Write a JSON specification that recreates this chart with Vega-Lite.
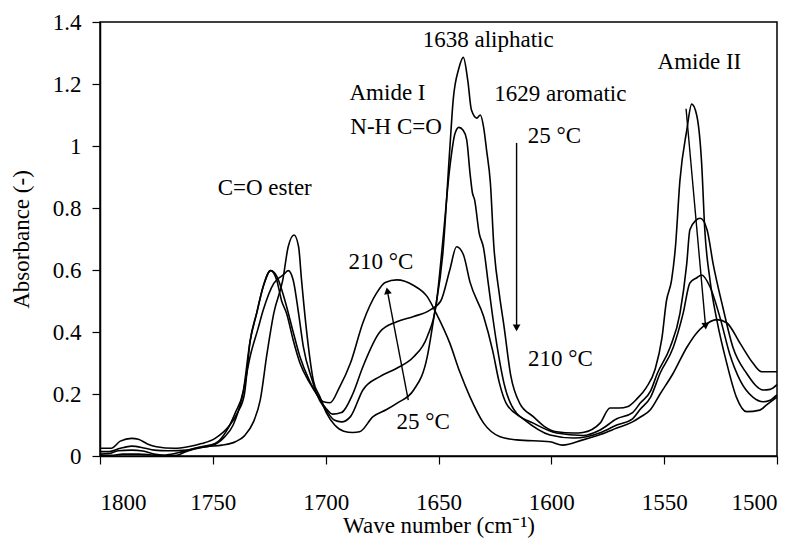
{
  "$schema": "https://vega.github.io/schema/vega-lite/v6.json",
  "width": 677,
  "height": 434,
  "autosize": "none",
  "padding": {"left": 100, "top": 22, "right": 26, "bottom": 90},
  "background": "white",
  "config": {
    "font": "Liberation Serif",
    "view": {"stroke": "black", "strokeWidth": 1.5},
    "axis": {
      "grid": false,
      "domainColor": "black",
      "domainWidth": 1.5,
      "tickColor": "black",
      "tickWidth": 1.2,
      "tickSize": 8,
      "labelColor": "black",
      "labelFont": "Liberation Serif",
      "labelFontSize": 23,
      "titleColor": "black",
      "titleFont": "Liberation Serif",
      "titleFontSize": 23,
      "titleFontWeight": "normal"
    }
  },
  "datasets": {
    "spectra": [
      {"s":"T1","w":1800,"a":0.002},{"s":"T1","w":1795,"a":0.002},{"s":"T1","w":1790,"a":0.006},{"s":"T1","w":1783,"a":0.006},{"s":"T1","w":1778,"a":0.004},{"s":"T1","w":1772,"a":0.0},{"s":"T1","w":1766,"a":0.002},{"s":"T1","w":1762,"a":0.014},{"s":"T1","w":1757,"a":0.024},{"s":"T1","w":1753,"a":0.03},{"s":"T1","w":1746,"a":0.035},{"s":"T1","w":1740,"a":0.046},{"s":"T1","w":1736,"a":0.065},{"s":"T1","w":1732,"a":0.11},{"s":"T1","w":1729,"a":0.18},{"s":"T1","w":1726,"a":0.33},{"s":"T1","w":1723,"a":0.46},{"s":"T1","w":1719,"a":0.568},{"s":"T1","w":1716.6,"a":0.675},{"s":"T1","w":1714,"a":0.713},{"s":"T1","w":1712,"a":0.675},{"s":"T1","w":1710.7,"a":0.568},{"s":"T1","w":1708.5,"a":0.406},{"s":"T1","w":1705.5,"a":0.245},{"s":"T1","w":1702.5,"a":0.19},{"s":"T1","w":1699.6,"a":0.138},{"s":"T1","w":1696,"a":0.1},{"s":"T1","w":1692,"a":0.08},{"s":"T1","w":1688,"a":0.076},{"s":"T1","w":1685,"a":0.078},{"s":"T1","w":1679,"a":0.127},{"s":"T1","w":1673,"a":0.15},{"s":"T1","w":1668.5,"a":0.17},{"s":"T1","w":1661,"a":0.213},{"s":"T1","w":1655,"a":0.32},{"s":"T1","w":1652,"a":0.45},{"s":"T1","w":1648,"a":0.66},{"s":"T1","w":1645,"a":0.99},{"s":"T1","w":1643.5,"a":1.148},{"s":"T1","w":1641,"a":1.25},{"s":"T1","w":1639,"a":1.286},{"s":"T1","w":1637,"a":1.21},{"s":"T1","w":1635.4,"a":1.116},{"s":"T1","w":1633,"a":1.09},{"s":"T1","w":1631.5,"a":1.1},{"s":"T1","w":1630,"a":1.06},{"s":"T1","w":1628.7,"a":0.987},{"s":"T1","w":1627,"a":0.88},{"s":"T1","w":1625.5,"a":0.68},{"s":"T1","w":1623,"a":0.52},{"s":"T1","w":1621,"a":0.42},{"s":"T1","w":1618,"a":0.26},{"s":"T1","w":1614,"a":0.17},{"s":"T1","w":1608,"a":0.127},{"s":"T1","w":1603,"a":0.095},{"s":"T1","w":1597.7,"a":0.078},{"s":"T1","w":1590,"a":0.074},{"s":"T1","w":1586,"a":0.076},{"s":"T1","w":1578.4,"a":0.106},{"s":"T1","w":1574,"a":0.155},{"s":"T1","w":1570,"a":0.155},{"s":"T1","w":1566,"a":0.16},{"s":"T1","w":1562,"a":0.185},{"s":"T1","w":1558,"a":0.22},{"s":"T1","w":1554,"a":0.28},{"s":"T1","w":1551,"a":0.38},{"s":"T1","w":1549,"a":0.5},{"s":"T1","w":1546.7,"a":0.568},{"s":"T1","w":1545,"a":0.675},{"s":"T1","w":1543,"a":0.89},{"s":"T1","w":1540,"a":1.05},{"s":"T1","w":1537.8,"a":1.135},{"s":"T1","w":1535.6,"a":1.1},{"s":"T1","w":1533.4,"a":0.945},{"s":"T1","w":1532,"a":0.73},{"s":"T1","w":1529.7,"a":0.568},{"s":"T1","w":1526.7,"a":0.44},{"s":"T1","w":1522.3,"a":0.3},{"s":"T1","w":1518,"a":0.19},{"s":"T1","w":1513.5,"a":0.143},{"s":"T1","w":1507.6,"a":0.148},{"s":"T1","w":1504.6,"a":0.165},{"s":"T1","w":1500,"a":0.19},

      {"s":"T2","w":1800,"a":0.006},{"s":"T2","w":1796,"a":0.008},{"s":"T2","w":1792,"a":0.017},{"s":"T2","w":1786,"a":0.019},{"s":"T2","w":1781,"a":0.016},{"s":"T2","w":1776,"a":0.006},{"s":"T2","w":1772,"a":0.003},{"s":"T2","w":1765,"a":0.011},{"s":"T2","w":1758,"a":0.025},{"s":"T2","w":1750,"a":0.035},{"s":"T2","w":1745,"a":0.06},{"s":"T2","w":1741,"a":0.1},{"s":"T2","w":1737,"a":0.19},{"s":"T2","w":1733.5,"a":0.32},{"s":"T2","w":1730,"a":0.41},{"s":"T2","w":1727.7,"a":0.47},{"s":"T2","w":1723,"a":0.557},{"s":"T2","w":1718.8,"a":0.584},{"s":"T2","w":1716.6,"a":0.598},{"s":"T2","w":1714.4,"a":0.568},{"s":"T2","w":1712,"a":0.46},{"s":"T2","w":1709.9,"a":0.353},{"s":"T2","w":1706,"a":0.245},{"s":"T2","w":1704,"a":0.2},{"s":"T2","w":1700,"a":0.15},{"s":"T2","w":1696,"a":0.115},{"s":"T2","w":1693,"a":0.11},{"s":"T2","w":1689,"a":0.127},{"s":"T2","w":1683.5,"a":0.213},{"s":"T2","w":1676,"a":0.256},{"s":"T2","w":1668.5,"a":0.283},{"s":"T2","w":1661,"a":0.32},{"s":"T2","w":1655,"a":0.385},{"s":"T2","w":1651,"a":0.49},{"s":"T2","w":1648,"a":0.7},{"s":"T2","w":1645,"a":0.93},{"s":"T2","w":1642.7,"a":1.04},{"s":"T2","w":1641,"a":1.06},{"s":"T2","w":1639,"a":1.05},{"s":"T2","w":1637.5,"a":1.02},{"s":"T2","w":1636,"a":0.91},{"s":"T2","w":1635,"a":0.85},{"s":"T2","w":1634,"a":0.826},{"s":"T2","w":1632,"a":0.72},{"s":"T2","w":1630,"a":0.67},{"s":"T2","w":1628,"a":0.56},{"s":"T2","w":1626,"a":0.45},{"s":"T2","w":1623.5,"a":0.33},{"s":"T2","w":1621,"a":0.235},{"s":"T2","w":1615.4,"a":0.138},{"s":"T2","w":1608,"a":0.106},{"s":"T2","w":1597.7,"a":0.074},{"s":"T2","w":1586,"a":0.066},{"s":"T2","w":1578.4,"a":0.084},{"s":"T2","w":1571,"a":0.12},{"s":"T2","w":1564,"a":0.14},{"s":"T2","w":1560.7,"a":0.17},{"s":"T2","w":1556,"a":0.21},{"s":"T2","w":1553,"a":0.267},{"s":"T2","w":1547.4,"a":0.35},{"s":"T2","w":1543,"a":0.46},{"s":"T2","w":1540,"a":0.62},{"s":"T2","w":1538.6,"a":0.73},{"s":"T2","w":1536,"a":0.76},{"s":"T2","w":1534,"a":0.767},{"s":"T2","w":1531,"a":0.73},{"s":"T2","w":1528.3,"a":0.62},{"s":"T2","w":1524,"a":0.48},{"s":"T2","w":1519.5,"a":0.35},{"s":"T2","w":1513.5,"a":0.267},{"s":"T2","w":1506,"a":0.213},{"s":"T2","w":1503,"a":0.215},{"s":"T2","w":1500,"a":0.23},

      {"s":"T3","w":1800,"a":0.014},{"s":"T3","w":1796,"a":0.014},{"s":"T3","w":1791,"a":0.025},{"s":"T3","w":1786,"a":0.032},{"s":"T3","w":1780,"a":0.025},{"s":"T3","w":1776,"a":0.019},{"s":"T3","w":1770,"a":0.017},{"s":"T3","w":1761,"a":0.019},{"s":"T3","w":1755,"a":0.03},{"s":"T3","w":1749,"a":0.04},{"s":"T3","w":1744,"a":0.08},{"s":"T3","w":1740,"a":0.14},{"s":"T3","w":1736.5,"a":0.21},{"s":"T3","w":1733.5,"a":0.37},{"s":"T3","w":1730.6,"a":0.46},{"s":"T3","w":1727.7,"a":0.546},{"s":"T3","w":1724.4,"a":0.598},{"s":"T3","w":1721.7,"a":0.58},{"s":"T3","w":1718,"a":0.5},{"s":"T3","w":1714.4,"a":0.4},{"s":"T3","w":1711.4,"a":0.32},{"s":"T3","w":1707,"a":0.24},{"s":"T3","w":1704,"a":0.2},{"s":"T3","w":1700,"a":0.155},{"s":"T3","w":1697,"a":0.135},{"s":"T3","w":1693,"a":0.14},{"s":"T3","w":1688,"a":0.2},{"s":"T3","w":1683.5,"a":0.288},{"s":"T3","w":1676,"a":0.4},{"s":"T3","w":1668.5,"a":0.433},{"s":"T3","w":1661,"a":0.45},{"s":"T3","w":1654,"a":0.47},{"s":"T3","w":1649,"a":0.5},{"s":"T3","w":1645,"a":0.6},{"s":"T3","w":1642,"a":0.675},{"s":"T3","w":1639,"a":0.65},{"s":"T3","w":1636,"a":0.56},{"s":"T3","w":1630,"a":0.45},{"s":"T3","w":1626,"a":0.34},{"s":"T3","w":1623,"a":0.235},{"s":"T3","w":1620,"a":0.17},{"s":"T3","w":1612.5,"a":0.12},{"s":"T3","w":1600.6,"a":0.068},{"s":"T3","w":1590,"a":0.058},{"s":"T3","w":1578,"a":0.076},{"s":"T3","w":1571,"a":0.1},{"s":"T3","w":1564,"a":0.12},{"s":"T3","w":1560.7,"a":0.15},{"s":"T3","w":1556,"a":0.19},{"s":"T3","w":1551.8,"a":0.267},{"s":"T3","w":1546,"a":0.35},{"s":"T3","w":1541.6,"a":0.46},{"s":"T3","w":1538.6,"a":0.558},{"s":"T3","w":1535.5,"a":0.575},{"s":"T3","w":1533.4,"a":0.584},{"s":"T3","w":1529.7,"a":0.546},{"s":"T3","w":1525,"a":0.44},{"s":"T3","w":1521,"a":0.33},{"s":"T3","w":1516.4,"a":0.245},{"s":"T3","w":1510.7,"a":0.19},{"s":"T3","w":1506,"a":0.175},{"s":"T3","w":1503,"a":0.18},{"s":"T3","w":1500,"a":0.197},

      {"s":"T4","w":1800,"a":0.025},{"s":"T4","w":1795,"a":0.025},{"s":"T4","w":1791,"a":0.048},{"s":"T4","w":1786,"a":0.057},{"s":"T4","w":1783,"a":0.054},{"s":"T4","w":1779,"a":0.039},{"s":"T4","w":1775,"a":0.03},{"s":"T4","w":1767,"a":0.025},{"s":"T4","w":1761,"a":0.03},{"s":"T4","w":1755,"a":0.04},{"s":"T4","w":1749,"a":0.057},{"s":"T4","w":1743,"a":0.095},{"s":"T4","w":1739,"a":0.14},{"s":"T4","w":1736,"a":0.2},{"s":"T4","w":1733.5,"a":0.37},{"s":"T4","w":1730.6,"a":0.46},{"s":"T4","w":1727.7,"a":0.546},{"s":"T4","w":1724.4,"a":0.598},{"s":"T4","w":1721.7,"a":0.568},{"s":"T4","w":1719.5,"a":0.5},{"s":"T4","w":1717.3,"a":0.46},{"s":"T4","w":1714.4,"a":0.374},{"s":"T4","w":1711.4,"a":0.3},{"s":"T4","w":1707,"a":0.235},{"s":"T4","w":1704,"a":0.2},{"s":"T4","w":1701,"a":0.175},{"s":"T4","w":1698,"a":0.172},{"s":"T4","w":1694,"a":0.22},{"s":"T4","w":1689,"a":0.3},{"s":"T4","w":1683.5,"a":0.43},{"s":"T4","w":1677.4,"a":0.526},{"s":"T4","w":1673.6,"a":0.56},{"s":"T4","w":1668.5,"a":0.568},{"s":"T4","w":1661,"a":0.55},{"s":"T4","w":1655,"a":0.514},{"s":"T4","w":1651,"a":0.46},{"s":"T4","w":1645,"a":0.364},{"s":"T4","w":1640.5,"a":0.27},{"s":"T4","w":1636,"a":0.19},{"s":"T4","w":1630,"a":0.106},{"s":"T4","w":1622.7,"a":0.062},{"s":"T4","w":1615.4,"a":0.052},{"s":"T4","w":1600.6,"a":0.046},{"s":"T4","w":1595,"a":0.035},{"s":"T4","w":1586,"a":0.052},{"s":"T4","w":1578,"a":0.07},{"s":"T4","w":1571,"a":0.09},{"s":"T4","w":1564,"a":0.11},{"s":"T4","w":1560.7,"a":0.125},{"s":"T4","w":1556,"a":0.15},{"s":"T4","w":1551.8,"a":0.2},{"s":"T4","w":1546,"a":0.267},{"s":"T4","w":1540,"a":0.35},{"s":"T4","w":1535.6,"a":0.397},{"s":"T4","w":1532.8,"a":0.417},{"s":"T4","w":1526.7,"a":0.44},{"s":"T4","w":1522.3,"a":0.43},{"s":"T4","w":1516.4,"a":0.364},{"s":"T4","w":1510.7,"a":0.3},{"s":"T4","w":1506.8,"a":0.272},{"s":"T4","w":1500,"a":0.272}
    ],
    "labels": [
      {"t":"C=O ester","w":1727,"a":0.865},
      {"t":"Amide I","w":1672.6,"a":1.172},
      {"t":"N-H C=O","w":1668.8,"a":1.062},
      {"t":"1638 aliphatic","w":1628,"a":1.342},
      {"t":"1629 aromatic","w":1596,"a":1.169},
      {"t":"25 °C","w":1598.6,"a":1.032},
      {"t":"210 °C","w":1596,"a":0.313},
      {"t":"Amide II","w":1534.4,"a":1.27},
      {"t":"210 °C","w":1675.5,"a":0.627},
      {"t":"25 °C","w":1656.8,"a":0.111}
    ],
    "arrows": [
      {"id":1,"w1":1615.4,"a1":1.01,"w2":1615.4,"a2":0.415},
      {"id":2,"w1":1540.3,"a1":1.12,"w2":1531.66,"a2":0.419},
      {"id":3,"w1":1663.4,"a1":0.18,"w2":1672.67,"a2":0.533}
    ],
    "head1": [{"w":1615.4,"a":0.413}],
    "head2": [{"w":1531.66,"a":0.419}],
    "head3": [{"w":1672.67,"a":0.533}]
  },
  "layer": [
    {
      "data": {"name": "spectra"},
      "mark": {"type": "line", "color": "black", "strokeWidth": 1.6, "interpolate": "monotone"},
      "encoding": {
        "x": {
          "field": "w", "type": "quantitative",
          "scale": {"domain": [1500, 1800], "reverse": true, "nice": false, "zero": false},
          "axis": {"values": [1500,1550,1600,1650,1700,1750,1800], "format": "d", "labelPadding": 27, "title": "Wave number (cm⁻¹)", "titlePadding": 0}
        },
        "y": {
          "field": "a", "type": "quantitative",
          "scale": {"domain": [0, 1.4], "nice": false},
          "axis": {"values": [0,0.2,0.4,0.6,0.8,1,1.2,1.4], "format": "~g", "labelPadding": 11, "title": "Absorbance (-)", "titlePadding": 19}
        },
        "detail": {"field": "s"}
      }
    },
    {
      "data": {"name": "arrows"},
      "mark": {"type": "rule", "color": "black", "strokeWidth": 1.4},
      "encoding": {
        "x": {"field": "w1", "type": "quantitative"},
        "y": {"field": "a1", "type": "quantitative"},
        "x2": {"field": "w2"},
        "y2": {"field": "a2"}
      }
    },
    {
      "data": {"name": "head1"},
      "mark": {"type": "point", "shape": "triangle-down", "filled": true, "color": "black", "opacity": 1, "size": 60},
      "encoding": {"x": {"field": "w", "type": "quantitative"}, "y": {"field": "a", "type": "quantitative"}}
    },
    {
      "data": {"name": "head2"},
      "mark": {"type": "point", "shape": "triangle-down", "filled": true, "color": "black", "opacity": 1, "size": 60, "angle": 355},
      "encoding": {"x": {"field": "w", "type": "quantitative"}, "y": {"field": "a", "type": "quantitative"}}
    },
    {
      "data": {"name": "head3"},
      "mark": {"type": "point", "shape": "triangle-up", "filled": true, "color": "black", "opacity": 1, "size": 60, "angle": 349},
      "encoding": {"x": {"field": "w", "type": "quantitative"}, "y": {"field": "a", "type": "quantitative"}}
    },
    {
      "data": {"name": "labels"},
      "mark": {"type": "text", "font": "Liberation Serif", "fontSize": 23, "color": "black", "align": "center", "baseline": "middle"},
      "encoding": {
        "x": {"field": "w", "type": "quantitative"},
        "y": {"field": "a", "type": "quantitative"},
        "text": {"field": "t"}
      }
    }
  ]
}
